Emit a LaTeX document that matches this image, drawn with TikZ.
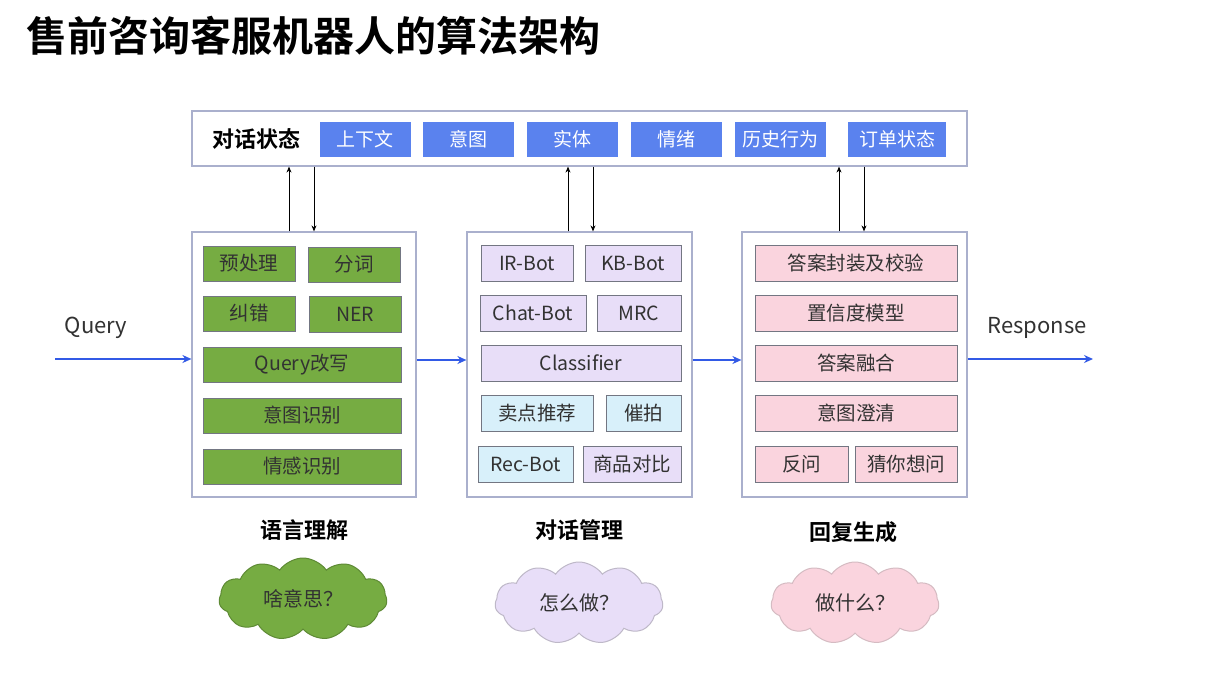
\documentclass[tikz,border=0pt]{standalone}
\usepackage{fontspec}
\setmainfont{Noto Sans CJK SC}
\newfontfamily\cjkbold{Noto Sans CJK SC Bold}
\usetikzlibrary{shapes.symbols,arrows.meta}
\definecolor{stblue}{RGB}{90,130,238}
\definecolor{ggreen}{RGB}{118,172,66}
\definecolor{lav}{RGB}{232,222,248}
\definecolor{lcyan}{RGB}{216,240,250}
\definecolor{lpink}{RGB}{250,212,222}
\definecolor{bord}{RGB}{115,118,130}
\definecolor{obord}{RGB}{170,176,205}
\definecolor{ablue}{RGB}{50,90,230}
\definecolor{txt}{RGB}{50,50,50}
\tikzset{
  base/.style={draw=bord, line width=0.9pt, inner sep=0pt, text=txt, font=\fontsize{19.5}{22}\selectfont},
  gbox/.style={base, fill=ggreen},
  lbox/.style={base, fill=lav},
  cbox/.style={base, fill=lcyan},
  pbox/.style={base, fill=lpink},
  sbox/.style={draw=none, fill=stblue, text=white, inner sep=0pt, minimum height=35pt, font=\fontsize{19}{22}\selectfont},
  outer/.style={draw=obord, line width=1.2pt, fill=white},
  flow/.style={draw=ablue, line width=1.8pt, -{Stealth[length=9pt,width=8pt]}},
  varrow/.style={draw=black, line width=0.8pt, -{Stealth[length=6pt,width=5pt]}},
  lbl/.style={font=\cjkbold\fontsize{22}{26}\selectfont, text=black},
  cl/.style={cloud, cloud puffs=11, cloud puff arc=110, aspect=2.1, minimum width=168pt, minimum height=82pt, line width=1pt, text=txt, font=\fontsize{20}{24}\selectfont},
}
\begin{document}
\begin{tikzpicture}[x=1pt,y=-1pt]
\useasboundingbox[fill=white] (0,0) rectangle (1223,687);
% title
\node[anchor=west, font=\cjkbold\fontsize{41}{46}\selectfont, text=black] (title) at (23,36) {售前咨询客服机器人的算法架构};
% state bar
\node[outer, minimum width=775pt, minimum height=55pt] (state) at (579.5,138.5) {};
\node[lbl] (stlbl) at (256,139) {对话状态};
\node[sbox, minimum width=91pt] (s1) at (365,139.5) {上下文};
\node[sbox, minimum width=91pt] (s2) at (468,139.5) {意图};
\node[sbox, minimum width=91pt] (s3) at (572,139.5) {实体};
\node[sbox, minimum width=91pt] (s4) at (676,139.5) {情绪};
\node[sbox, minimum width=91pt] (s5) at (780,139.5) {历史行为};
\node[sbox, minimum width=98pt] (s6) at (897,139.5) {订单状态};
% main boxes
\node[outer, minimum width=224pt, minimum height=265pt] (L) at (304,364.5) {};
\node[outer, minimum width=225pt, minimum height=265pt] (M) at (579.5,364.5) {};
\node[outer, minimum width=225pt, minimum height=265pt] (R) at (854.5,364.5) {};
% left inner
\node[gbox, minimum width=92pt, minimum height=35pt] (l1) at (249,263.5) {预处理};
\node[gbox, minimum width=92pt, minimum height=35pt] (l2) at (354,264.5) {分词};
\node[gbox, minimum width=92pt, minimum height=35pt] (l3) at (249,313.5) {纠错};
\node[gbox, minimum width=92pt, minimum height=36pt] (l4) at (355,314) {NER};
\node[gbox, minimum width=198pt, minimum height=35pt] (l5) at (302,364.5) {Query改写};
\node[gbox, minimum width=198pt, minimum height=35pt] (l6) at (302,415.5) {意图识别};
\node[gbox, minimum width=198pt, minimum height=35pt] (l7) at (302,466.5) {情感识别};
% middle inner
\node[lbox, minimum width=92pt, minimum height=36pt] (m1) at (527,263) {IR-Bot};
\node[lbox, minimum width=96pt, minimum height=36pt] (m2) at (633,263) {KB-Bot};
\node[lbox, minimum width=106pt, minimum height=36pt] (m3) at (533,313) {Chat-Bot};
\node[lbox, minimum width=84pt, minimum height=36pt] (m4) at (639,313) {MRC};
\node[lbox, minimum width=200pt, minimum height=36pt] (m5) at (581,363) {Classifier};
\node[cbox, minimum width=112pt, minimum height=36pt] (m6) at (537,413) {卖点推荐};
\node[cbox, minimum width=75pt, minimum height=36pt] (m7) at (643.5,413) {催拍};
\node[cbox, minimum width=95pt, minimum height=36pt] (m8) at (525.5,464) {Rec-Bot};
\node[lbox, minimum width=98pt, minimum height=36pt] (m9) at (632,464) {商品对比};
% right inner
\node[pbox, minimum width=202pt, minimum height=36pt] (r1) at (856,263) {答案封装及校验};
\node[pbox, minimum width=202pt, minimum height=36pt] (r2) at (856,313) {置信度模型};
\node[pbox, minimum width=202pt, minimum height=36pt] (r3) at (856,363) {答案融合};
\node[pbox, minimum width=202pt, minimum height=36pt] (r4) at (856,413) {意图澄清};
\node[pbox, minimum width=93pt, minimum height=36pt] (r5) at (801.5,464) {反问};
\node[pbox, minimum width=102pt, minimum height=36pt] (r6) at (906,464) {猜你想问};
% flow arrows
\coordinate (qin) at (55,359);
\coordinate (rout) at (1093,359);
\node[font=\fontsize{22}{26}\selectfont, text=txt] (qlbl) at (96,328) {Query};
\node[font=\fontsize{22}{26}\selectfont, text=txt] (rlbl) at (1037,328) {Response};
\draw[flow] (qin) -- (qin -| L.west);
\draw[flow] (L.east |- 0,360) -- (M.west |- 0,360);
\draw[flow] (M.east |- 0,360) -- (R.west |- 0,360);
\draw[flow] (R.east |- rout) -- (rout);
% vertical arrows
\draw[varrow] ([xshift=-15pt]L.north) -- ([xshift=-15pt]L.north |- state.south);
\draw[varrow] ([xshift=10pt]L.north |- state.south) -- ([xshift=10pt]L.north);
\draw[varrow] ([xshift=-11.5pt]M.north) -- ([xshift=-11.5pt]M.north |- state.south);
\draw[varrow] ([xshift=13.5pt]M.north |- state.south) -- ([xshift=13.5pt]M.north);
\draw[varrow] ([xshift=-15.5pt]R.north) -- ([xshift=-15.5pt]R.north |- state.south);
\draw[varrow] ([xshift=9.5pt]R.north |- state.south) -- ([xshift=9.5pt]R.north);
% labels
\node[lbl] (ll) at (304,530) {语言理解};
\node[lbl] (ml) at (579,530) {对话管理};
\node[lbl] (rl) at (853,532) {回复生成};
% clouds
\node[cl, draw=ggreen!80!black, fill=ggreen] (c1) at (303,599) {啥意思？};
\node[cl, draw=lav!60!gray, fill=lav] (c2) at (579,603) {怎么做？};
\node[cl, draw=lpink!70!gray, fill=lpink] (c3) at (855,603) {做什么？};
\end{tikzpicture}
\end{document}
